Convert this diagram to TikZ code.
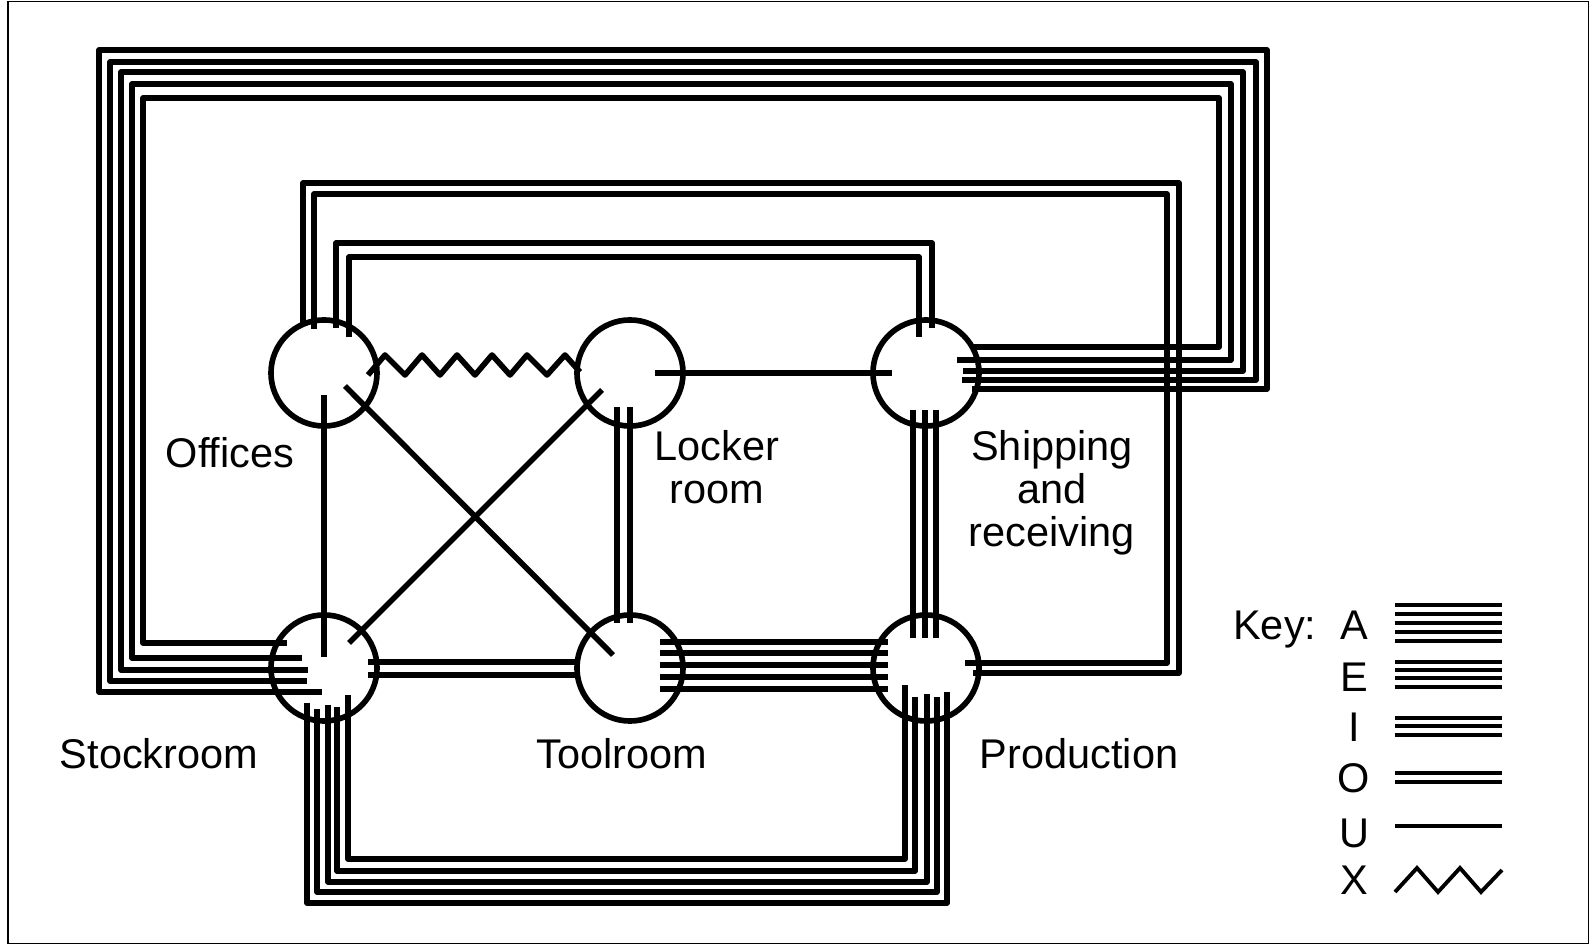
\documentclass[tikz,border=0pt]{standalone}
\usepackage{fontspec}
\setmainfont{Liberation Sans}
\usetikzlibrary{calc}
\tikzset{
  dept/.style={circle,draw,line width=1.6pt,minimum size=1.06cm,inner sep=0pt},
  lnk/.style={line width=1.6pt,line join=round},
  keyln/.style={line width=1.1pt},
  lbl/.style={font=\fontsize{11.8pt}{12.2pt}\selectfont,align=center,inner sep=0pt},
}

\begin{document}
\begin{tikzpicture}[x=0.01cm,y=-0.01cm]
  \useasboundingbox (0,0) rectangle (1590,946);
  \draw[line width=0.4pt] (8,1.5) rectangle (1588.5,943.5);

  % departments
  \node[dept] (off) at (324,373) {};
  \node[dept] (lck) at (630,373) {};
  \node[dept] (shp) at (926,373) {};
  \node[dept] (stk) at (324,668) {};
  \node[dept] (tlr) at (630,668) {};
  \node[dept] (prd) at (926,668) {};

  % labels
  \node[lbl,anchor=base] (loff) at (230,468) {Offices};
  \node[lbl] (llck) at (717,467) {Locker\\room};
  \node[lbl] (lshp) at (1052,493) {Shipping\\and\\receiving};
  \node[lbl,anchor=base] (lstk) at (159,768) {Stockroom};
  \node[lbl,anchor=base] (ltlr) at (622,768) {Toolroom};
  \node[lbl,anchor=base] (lprd) at (1079,768) {Production};

  % A: stockroom - shipping, round the top
  \foreach \sx/\sy/\lx/\ty/\rx/\ex/\ey in {-37/-25/-181/-570/293/46/-26,
      -22/-10/-192/-584/305/31/-13, -16/2/-203/-596/317/37/-2,
      -17/13/-214/-606/330/36/7, -2/24/-225/-618/341/46/16}
    \draw[lnk] ($(stk)+(\sx,\sy)$) -| ($(stk)+(\lx,\ty)$) -| ($(shp)+(\rx,\ey)$) -- ($(shp)+(\ex,\ey)$);

  % A: stockroom - production, round the bottom
  \foreach \sx/\sy/\bd/\px/\py in {-17/35/235/21/24, -7/41/224/11/29,
      4/37/214/1/26, 13/39/203/-11/29, 24/27/191/-21/17}
    \draw[lnk] ($(stk)+(\sx,\sy)$) |- ($(prd)+(\px,\bd)$) -- ($(prd)+(\px,\py)$);

  % A: toolroom - production
  \foreach \d in {-26,-15,-3,9,21}
    \draw[lnk] ($(tlr)+(30,\d)$) -- ($(prd)+(-38,\d)$);

  % O: offices - shipping
  \foreach \ox/\oy/\ty/\sx/\sy in {12/-45/-130/6/-45, 25/-36/-116/-7/-36}
    \draw[lnk] ($(off)+(\ox,\oy)$) |- ($(shp)+(\sx,\ty)$) -- ($(shp)+(\sx,\sy)$);

  % O: offices - production
  \foreach \ox/\oy/\ty/\rx/\ex/\ey in {-21/-50/-485/253/47/5, -10/-44/-474/241/39/-5}
    \draw[lnk] ($(off)+(\ox,\oy)$) |- ($(prd)+(\rx,\ty)$) |- ($(prd)+(\ex,\ey)$);

  % I: shipping - production
  \foreach \d in {-13,-1,10}
    \draw[lnk] ($(shp)+(\d,37)$) -- ($(prd)+(\d,-30)$);

  % O: stockroom - toolroom, locker room - toolroom
  \foreach \d in {-6,7}
    \draw[lnk] ($(stk)+(44,\d)$) -- ($(tlr)+(-52,\d)$);
  \foreach \d in {-13,0}
    \draw[lnk] ($(lck)+(\d,34)$) -- ($(tlr)+(\d,-45)$);

  % U
  \draw[lnk] ($(lck)+(25,0)$) -- ($(shp)+(-34,0)$);
  \draw[lnk] ($(off)+(0,22)$) -- ($(stk)+(0,-11)$);
  \draw[lnk] ($(off)+(21,13)$) -- ($(tlr)+(-17,-13)$);
  \draw[lnk] ($(lck)+(-28,17)$) -- ($(stk)+(25,-25)$);

  % X: offices - locker room
  \draw[lnk] ($(off)+(44,2)$)
    \foreach \x/\y in {61/-18,81/2,98/-18,116/2,133/-18,151/2,168/-18,186/2,203/-18,223/2,241/-18}
      { -- ($(off)+(\x,\y)$) } -- ($(lck)+(-50,-1)$);

  % key
  \node[lbl,anchor=base east] (key) at (1317,640) {Key:};
  \foreach \c/\yb in {A/640,E/692,I/742,O/793,U/847,X/895}
    \node[lbl,anchor=base] (k\c) at (1354,\yb) {\c};
  \foreach \y in {605,614,623,632,641,662,670,678,687,718,726,735,773,782,826}
    \draw[keyln] (1395,\y) -- (1502,\y);
  \draw[keyln] (1395,892) -- (1417,868) -- (1438,892) -- (1460,868) -- (1481,892) -- (1502,870);
\end{tikzpicture}
\end{document}
